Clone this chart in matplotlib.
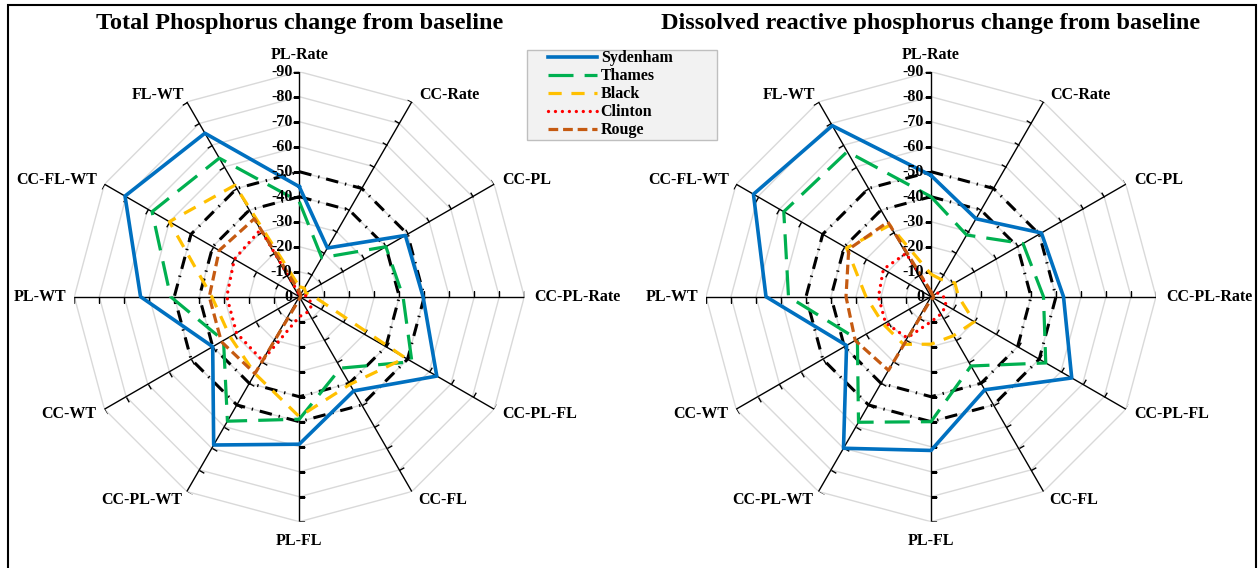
import numpy as np
import matplotlib
matplotlib.use("Agg")
import matplotlib.pyplot as plt
from matplotlib.markers import MarkerStyle
from matplotlib.path import Path
from matplotlib.transforms import Affine2D
from matplotlib.patches import Rectangle
from matplotlib.lines import Line2D

plt.rcParams["font.family"] = "Liberation Serif"
plt.rcParams["font.weight"] = "bold"
plt.rcParams["lines.scale_dashes"] = False

categories = ["PL-Rate", "CC-Rate", "CC-PL", "CC-PL-Rate", "CC-PL-FL", "CC-FL",
              "PL-FL", "CC-PL-WT", "CC-WT", "PL-WT", "CC-FL-WT", "FL-WT"]
levels = [-10, -20, -30, -40, -50, -60, -70, -80, -90]
series_names = ["Sydenham", "Thames", "Black", "Clinton", "Rouge"]

# Total phosphorus (% change from baseline)
tp_sydenham = [-44, -22.5, -49, -49.5, -63.5, -43.5, -59, -68.5, -40, -63.5, -80.5, -75.5]
tp_thames = [-38, -18, -40, -41.5, -52, -33, -49, -57.5, -35, -51.5, -68, -64]
tp_black = [-4, -4, -3, -6, -49, -40.5, -48, -35.5, -32, -35, -60, -51.5]
tp_clinton = [-1, -1, -2, -3, -6, -7, -8, -29.5, -29, -29, -30, -31]
tp_rouge = [-2, -1, -0.5, -0.5, -0.5, -0.5, -1, -35.5, -36, -36, -37, -36]

# Dissolved reactive phosphorus (% change from baseline)
drp_sydenham = [-48.5, -36, -51, -53, -65, -43, -61.5, -70, -39, -66, -82, -79]
drp_thames = [-40, -28.5, -42.5, -45, -53, -32, -50, -58, -34, -57, -68, -67]
drp_black = [-9, -8, -11, -11, -20, -18, -19, -22, -22, -26, -39, -33]
drp_clinton = [-2, -2, -3, -5, -7, -8, -10, -19, -21, -21, -22, -20]
drp_rouge = [-2, -1, -1, -1, -1, -1, -1, -34, -35, -34, -38, -34.5]

# reduction targets
target_40 = [-40, -40, -40, -40, -40, -40, -40, -40, -40, -40, -40, -40]
target_50 = [-50, -50, -50, -50, -50, -50, -50, -50, -50, -50, -50, -50]

styles = {
    "Sydenham": dict(color="#0070c0", lw=2.6, ls="-"),
    "Thames": dict(color="#00b050", lw=2.3, ls=(0, (18, 8))),
    "Black": dict(color="#ffc000", lw=2.3, ls=(0, (9.5, 7))),
    "Clinton": dict(color="#ff0000", lw=2.4, ls=(0, (0.01, 5)), solid_capstyle="round",
                    dash_capstyle="round"),
    "Rouge": dict(color="#c55a11", lw=2.3, ls=(0, (7, 3.5))),
}
target_style = dict(color="black", lw=2.2, ls=(0, (9, 5, 1, 5)))

W, H = 1259, 568
fig = plt.figure(figsize=(W / 100, H / 100), dpi=100)

angles = np.arange(len(categories)) * 2 * np.pi / len(categories)
closed = np.append(angles, angles[0])

# label offsets (pixels) and alignment for each spoke
label_offsets = [(0, 17, "center"), (7, 7, "left"), (8, 4, "left"), (10, 0, "left"),
                 (8, -5, "left"), (6, -8, "left"), (0, -19, "center"), (-5, -8, "right"),
                 (-8, -5, "right"), (-8, 0, "right"), (-7, 4, "right"), (-3, 7, "right")]


def tick_marker(theta):
    # short tick on the counter-clockwise side of a spoke
    ang = np.degrees(np.arctan2(np.sin(theta), -np.cos(theta)))
    path = Path([(0, 0), (1, 0)])
    return MarkerStyle(path, transform=Affine2D().rotate_deg(ang))


def radar(cx, title, data):
    R = 225
    ax = fig.add_axes([(cx - R) / W, (H - 296.7 - R) / H, 2 * R / W, 2 * R / H],
                      projection="polar")
    ax.set_theta_zero_location("N")
    ax.set_theta_direction(-1)
    ax.set_ylim(0, -90)
    ax.grid(False)
    ax.set_xticks([])
    ax.set_yticks([])
    ax.spines["polar"].set_visible(False)
    ax.patch.set_alpha(0)

    for lv in levels:
        ax.plot(closed, np.full(closed.size, lv), color="#d9d9d9", lw=1.0, zorder=1)
    for a in angles:
        ax.plot([a, a], [0, -90], color="black", lw=1.0, zorder=2)
        ax.plot(np.full(len(levels), a), levels, ls="none", marker=tick_marker(a),
                markersize=8, mec="black", mew=1.0, zorder=2)

    for tgt in (target_40, target_50):
        ax.plot(closed, np.append(tgt, tgt[0]), zorder=3, **target_style)
    for name, vals in zip(series_names, data):
        ax.plot(closed, np.append(vals, vals[0]), zorder=4, **styles[name])

    for lv in [0] + levels:
        ax.annotate(str(lv), xy=(0, lv), xytext=(-7, 0), textcoords="offset pixels",
                    ha="right", va="center", fontsize=11.5, zorder=5)
    for a, cat, (dx, dy, ha) in zip(angles, categories, label_offsets):
        ax.annotate(cat, xy=(a, -90), xytext=(dx, dy), textcoords="offset pixels",
                    ha=ha, va="center", fontsize=11.5)
    fig.text(cx / W, 1 - 23.5 / H, title, ha="center", va="center", fontsize=17.5)
    return ax


radar(299.3, "Total Phosphorus change from baseline",
      [tp_sydenham, tp_thames, tp_black, tp_clinton, tp_rouge])
radar(931, "Dissolved reactive phosphorus change from baseline",
      [drp_sydenham, drp_thames, drp_black, drp_clinton, drp_rouge])

# legend box drawn separately so the entries can sit inset from its edge
fig.patches.append(Rectangle((527 / W, 1 - 140 / H), 190 / W, 90 / H,
                             transform=fig.transFigure, fc="#f2f2f2", ec="#bfbfbf",
                             lw=1.0, zorder=1))
handles = [Line2D([], [], **styles[n]) for n in series_names]
fig.legend(handles, series_names, loc="upper left",
           bbox_to_anchor=(548 / W, 1 - 50.5 / H), bbox_transform=fig.transFigure,
           fontsize=11.5, frameon=False, handlelength=3.05, handletextpad=0.25,
           labelspacing=0.12, borderpad=0, borderaxespad=0)

fig.patches.append(Rectangle((8 / W, -0.02), (1256 - 8) / W, 1.02 - 5 / H,
                             transform=fig.transFigure, fill=False, ec="black", lw=1.5))

fig.savefig("out.png", dpi=100)
